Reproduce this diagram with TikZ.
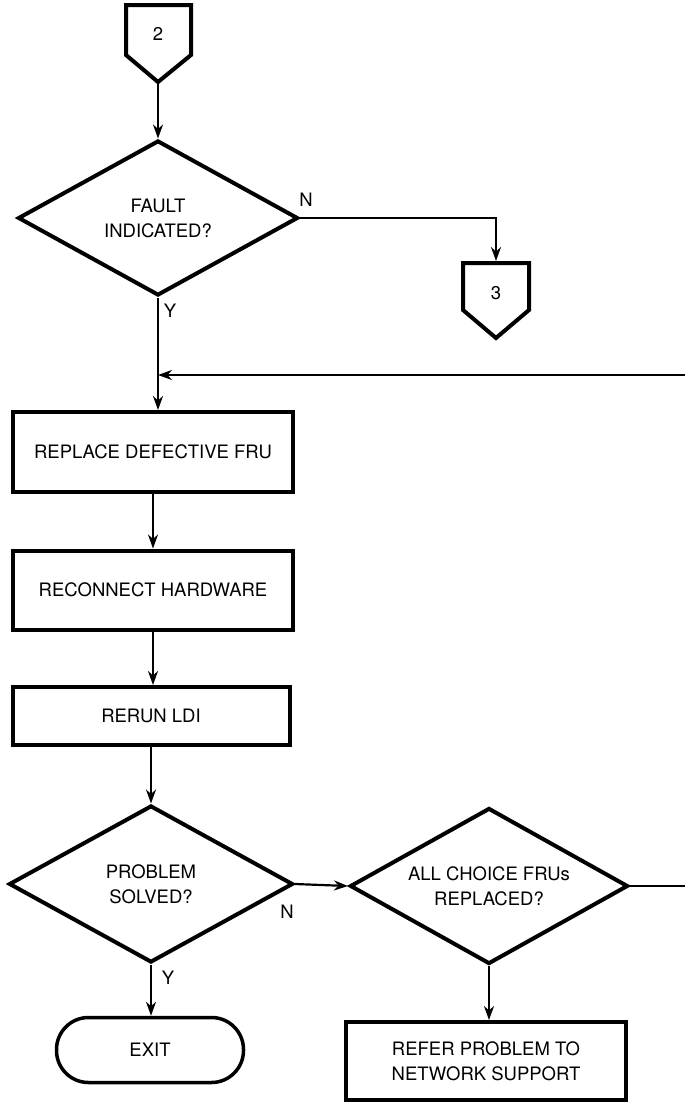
\documentclass[tikz,border=0pt]{standalone}
\usepackage{fontspec}
\setmainfont{TeX Gyre Heros}
\usetikzlibrary{shapes.geometric,arrows.meta}
\begin{document}
\begin{tikzpicture}[x=1pt,y=-1pt,
  every node/.style={font=\fontsize{18.5}{25}\selectfont},
  box/.style={draw,line width=4pt,rectangle,minimum width=280pt,inner sep=0,align=center},
  decision/.style={draw,line width=4pt,diamond,inner sep=0,align=center,aspect=1.8},
  terminal/.style={draw,line width=3.5pt,rectangle,rounded corners=32pt,minimum width=187pt,minimum height=65pt,inner sep=0},
  offpage/.style={draw,line width=4pt,line join=miter},
  link/.style={line width=2.2pt},
  flow/.style={line width=2.2pt,-{Stealth[length=14pt,width=10pt]}},
  lbl/.style={inner sep=0}]
\useasboundingbox (0,0) rectangle (685,1103);

% off-page connector 2
\draw[offpage] (126,5) -- (191,5) -- (191,55) -- (158,82) -- (126,55) -- cycle;
\node (c2) at (158,34) {2};
\coordinate (c2tip) at (158,82);

% first decision
\node[decision,minimum width=280pt,minimum height=155pt] (fault) at (158,218) {FAULT\\INDICATED?};

% off-page connector 3
\draw[offpage] (463,263) -- (529,263) -- (529,310) -- (496,338) -- (463,310) -- cycle;
\node (c3) at (496,293) {3};
\coordinate (c3top) at (496,261);

% process steps
\node[box,minimum height=80pt] (replace) at (153,452) {REPLACE DEFECTIVE FRU};
\node[box,minimum height=79pt] (reconnect) at (153,590) {RECONNECT HARDWARE};
\node[box,minimum width=277pt,minimum height=58pt] (rerun) at (151,716) {RERUN LDI};

% second and third decisions
\node[decision,minimum width=284pt,minimum height=157pt] (solved) at (151,884) {PROBLEM\\SOLVED?};
\node[decision,minimum width=278pt,minimum height=156pt] (allfru) at (489,886) {ALL CHOICE FRUs\\REPLACED?};

% end points
\node[terminal] (exit) at (150,1050) {EXIT};
\node[box,minimum height=78pt] (refer) at (486,1061) {REFER PROBLEM TO\\NETWORK SUPPORT};

% helper coordinates for the loop-back line
\coordinate (fb) at (0,375);
\coordinate (merge) at (fault.south |- fb);
\coordinate (rtop) at (692,375);

% connectors
\draw[flow] (c2tip) -- (fault.north);
\draw[flow] (fault.east) -| (c3top);
\draw[link] (fault.south) -- (merge);
\draw[flow] (merge) -- (merge |- replace.north);
\draw[flow] (replace.south) -- (replace.south |- reconnect.north);
\draw[flow] (reconnect.south) -- (reconnect.south |- rerun.north);
\draw[flow] (rerun.south) -- (rerun.south |- solved.north);
\draw[flow] (solved.east) -- (allfru.west);
\draw[flow] (solved.south) -- (solved.south |- exit.north);
\draw[flow] (allfru.south) -- (allfru.south |- refer.north);
\draw[flow] (allfru.east) -| (rtop) -- (merge);

% branch labels
\node[lbl] (n1) at (306,200) {N};
\node[lbl] (y1) at (170,311) {Y};
\node[lbl] (n2) at (287,912) {N};
\node[lbl] (y2) at (168,978) {Y};
\end{tikzpicture}
\end{document}
